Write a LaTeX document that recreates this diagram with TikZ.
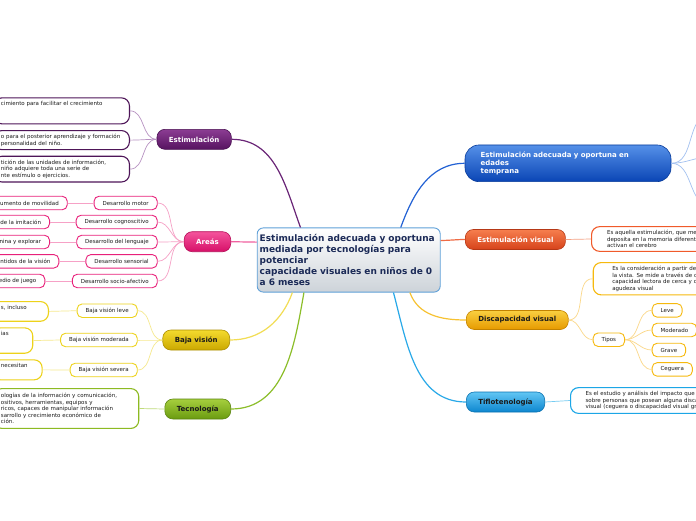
\documentclass[tikz,border=0pt]{standalone}
\usepackage{fontspec}
\setmainfont{DejaVu Sans}
\def\hoja{\fontsize{5.5}{6.6}\selectfont}
\definecolor{cenline}{HTML}{5FA0D8}
\definecolor{cenbot}{HTML}{CDD3D9}
\definecolor{centext}{HTML}{1B2A57}
\definecolor{negro}{HTML}{1A1A1A}
\definecolor{moradoA}{HTML}{8C3D93}
\definecolor{moradoB}{HTML}{561360}
\definecolor{morado}{HTML}{4E1558}
\definecolor{moradolinea}{HTML}{6A2577}
\definecolor{moradoclaro}{HTML}{B892C2}
\definecolor{rosaA}{HTML}{F4549C}
\definecolor{rosaB}{HTML}{D60F68}
\definecolor{rosa}{HTML}{E8207A}
\definecolor{rosalinea}{HTML}{F0609F}
\definecolor{rosaclaro}{HTML}{F6A1C6}
\definecolor{amarilloA}{HTML}{F4DA2E}
\definecolor{amarilloB}{HTML}{CBA800}
\definecolor{amarillo}{HTML}{EDD21A}
\definecolor{amarillolinea}{HTML}{F2DD55}
\definecolor{amarilloclaro}{HTML}{F6E98E}
\definecolor{verdeA}{HTML}{A6CF3E}
\definecolor{verdeB}{HTML}{6A9B10}
\definecolor{verde}{HTML}{8DBA22}
\definecolor{verdelinea}{HTML}{8CBE2A}
\definecolor{verdeclaro}{HTML}{BFDB7A}
\definecolor{azulA}{HTML}{5590E8}
\definecolor{azulB}{HTML}{0A45B5}
\definecolor{azullinea}{HTML}{2362D4}
\definecolor{azulclaro}{HTML}{A3C1F0}
\definecolor{naranjaA}{HTML}{F67E4E}
\definecolor{naranjaB}{HTML}{D6421A}
\definecolor{naranja}{HTML}{F05A2A}
\definecolor{naranjalinea}{HTML}{EF6B45}
\definecolor{naranjaclaro}{HTML}{F5A285}
\definecolor{oroA}{HTML}{F9CF40}
\definecolor{oroB}{HTML}{E69A00}
\definecolor{oro}{HTML}{F6B90E}
\definecolor{orolinea}{HTML}{F7C232}
\definecolor{oroclaro}{HTML}{FBD889}
\definecolor{celesteA}{HTML}{62C6F4}
\definecolor{celesteB}{HTML}{0C86CF}
\definecolor{celeste}{HTML}{1CA6E6}
\definecolor{celestelinea}{HTML}{29A9E8}
\definecolor{celesteclaro}{HTML}{76CCF2}

\begin{document}
\begin{tikzpicture}[x=1pt,y=1pt,
	main/.style 2 args={draw=#2!85!black,top color=#1,bottom color=#2,line width=0.6pt,
		rounded corners=8pt,minimum height=20pt,inner xsep=12pt,inner ysep=0pt,
		font=\fontsize{7}{8.4}\selectfont\bfseries},
	sub/.style={draw=#1,fill=white,line width=0.9pt,rounded corners=5pt,
		minimum height=13.5pt,inner xsep=8.5pt,inner ysep=0pt,font=\hoja,text=negro},
	leaf/.style={draw=#1,fill=white,line width=1.1pt,rounded corners=8pt,
		inner xsep=8.5pt,inner ysep=3.5pt,align=left,font=\hoja,text=negro},
	tall/.style={text height=4.2pt,text depth=#1},
	link/.style={draw=#1,line width=1.2pt},
	twig/.style={draw=#1,line width=0.7pt}]
\useasboundingbox (0,0) rectangle (696,-520);
\clip (0,0) rectangle (696,-520);
\fill[white] (0,0) rectangle (696,-520);

% centro
\node[draw=cenline,line width=0.9pt,rounded corners=6pt,top color=white,bottom color=cenbot,
	text=centext,font=\fontsize{9}{11.2}\selectfont\bfseries,align=left,text width=178pt,
	inner xsep=2.5pt,inner ysep=6pt] (cen) at (348.7,-260)
	{Estimulación adecuada y oportuna\\mediada por tecnologías para\\potenciar\\capacidade visuales en niños de 0\\a 6 meses};

% Estimulacion
\node[main={moradoA}{moradoB},text=white,anchor=east] (est) at (231.7,-139.3) {Estimulación};
\node[leaf=morado,tall=14.8pt,text width=121.5pt,inner xsep=7pt,anchor=north east] (est1) at (130,-97.3)
	{cimiento para facilitar el crecimiento};
\node[leaf=morado,text width=121.5pt,inner xsep=7pt,anchor=north east] (est2) at (130,-130)
	{o para el posterior aprendizaje y formación\\personalidad del niño.};
\node[leaf=morado,text width=121.5pt,inner xsep=7pt,anchor=north east] (est3) at (130,-155.7)
	{tición de las unidades de información,\\niño adquiere toda una serie de\\nte estímulo o ejercicios.};
\draw[link=moradolinea] (cen.146) to[out=110,in=0] (est.east);
\foreach \n in {1,2,3}
	\draw[twig=moradoclaro] (est.west) to[out=180,in=0] (est\n.east);

% Areas
\node[main={rosaA}{rosaB},text=white,anchor=east] (ar) at (231,-241.7) {Areás};
\draw[link=rosalinea] (cen.169) -- (ar.east);
\foreach \n/\y/\sub/\rx/\leaf in {1/203/Desarrollo motor/67.7/umento de movilidad,
	2/222/Desarrollo cognoscitivo/50/de la imitación,
	3/242/Desarrollo del lenguaje/50/nina y explorar,
	4/261.3/Desarrollo sensorial/59.3/ntidos de la visión,
	5/281/Desarrollo socio-afectivo/45.3/edio de juego}{
	\node[sub=rosa,anchor=east] (ar\n) at (157.7,-\y) {\sub};
	\node[sub=rosa,anchor=east] (arh\n) at (\rx,-\y) {\leaf};
	\draw[twig=rosaclaro] (ar.west) to[out=180,in=0] (ar\n.east);
	\draw[twig=rosaclaro] (ar\n.west) -- (arh\n.east);
}

% Baja vision
\node[main={amarilloA}{amarilloB},text=negro,anchor=east] (bv) at (230,-340) {Baja visión};
\draw[link=amarillolinea] (cen.210) to[out=-110,in=0] (bv.east);
\foreach \n/\y/\sub/\rx/\tp/\w/\d/\leaf in {1/310.7/Baja visión leve/49/301/39pt/8.5pt/{s, incluso},
	2/340/Baja visión moderada/33.3/327.3/23.3pt/14.2pt/ias,
	3/370/Baja visión severa/42.7/359.3/32.7pt/8.8pt/necesitan}{
	\node[sub=amarillo,anchor=east] (bv\n) at (137.7,-\y) {\sub};
	\node[leaf=amarillo,tall=\d,text width=\w,anchor=north east] (bvh\n) at (\rx,-\tp) {\leaf};
	\draw[twig=amarilloclaro] (bv.west) to[out=180,in=0] (bv\n.east);
	\draw[twig=amarilloclaro] (bv\n.west) -- (bvh\n.east);
}

% Tecnologia
\node[main={verdeA}{verdeB},text=negro,anchor=east] (tec) at (231,-409) {Tecnología};
\node[leaf=verde,text width=130.8pt,inner xsep=7pt,inner ysep=4.5pt,anchor=east] (tec1) at (139.3,-408.5)
	{ologías de la información y comunicación,\\ositivos, herramientas, equipos y\\ricos, capaces de manipular información\\sarrollo y crecimiento económico de\\ción.};
\draw[link=verdelinea] (cen.216) to[out=-100,in=0] (tec.east);
\draw[twig=verdeclaro] (tec.west) -- (tec1.east);

% Estimulacion temprana
\node[main={azulA}{azulB},text=white,align=left,text width=174.6pt,inner xsep=15.7pt,
	minimum height=36.7pt,rounded corners=14pt,font=\fontsize{7}{8.3}\selectfont\bfseries] (az) at (568,-163.3)
	{Estimulación adecuada y oportuna en\\edades\\temprana};
\draw[link=azullinea] (cen.32) to[out=70,in=180] (az.west);
\coordinate (az1) at (710,-115);
\coordinate (az2) at (710,-157);
\coordinate (az3) at (710,-205);
\foreach \n in {1,2,3}
	\draw[twig=azulclaro] (az.east) to[out=0,in=180] (az\n);

% Estimulacion visual
\node[main={naranjaA}{naranjaB},text=white,anchor=west] (ev) at (465,-239.5) {Estimulación visual};
\node[leaf=naranja,text width=150pt,inner xsep=15.5pt,anchor=west] (ev1) at (591,-239)
	{Es aquella estimulación, que me\\deposita en la memoria diferent\\activan el cerebro};
\draw[link=naranjalinea] (cen.12) to[out=0,in=180] (ev.west);
\draw[twig=naranjaclaro] (ev.east) -- (ev1.west);

% Discapacidad visual
\node[main={oroA}{oroB},text=negro,anchor=west,minimum height=19pt] (dv) at (466,-320) {Discapacidad visual};
\node[leaf=oro,text width=150pt,inner xsep=19pt,anchor=north west] (dv1) at (592.7,-262)
	{Es la consideración a partir de\\la vista. Se mide a través de d\\capacidad lectora de cerca y d\\agudeza visual};
\node[sub=oro,anchor=west] (tp) at (592.7,-339.7) {Tipos};
\draw[link=orolinea] (cen.332) to[out=-70,in=180] (dv.west);
\draw[twig=oroclaro] (dv.east) to[out=0,in=180] (dv1.west);
\draw[twig=oroclaro] (dv.east) to[out=0,in=180] (tp.west);
\foreach \n/\y/\t in {1/310.4/Leve,2/330/Moderado,3/350/Grave,4/369.4/Ceguera}{
	\node[sub=oro,anchor=west] (tp\n) at (651.7,-\y) {\t};
	\draw[twig=oroclaro] (tp.east) to[out=0,in=180] (tp\n.west);
}

% Tiflotecnologia
\node[main={celesteA}{celesteB},text=negro,anchor=west] (tf) at (466,-402) {Tiflotenología};
\node[leaf=celeste,text width=150pt,inner xsep=15pt,anchor=west] (tf1) at (570,-400.5)
	{Es el estudio y análisis del impacto que\\sobre personas que posean alguna disca\\visual (ceguera o discapacidad visual gr};
\draw[link=celestelinea] (cen.324) to[out=-75,in=180] (tf.west);
\draw[twig=celesteclaro] (tf.east) -- (tf1.west);
\end{tikzpicture}
\end{document}
